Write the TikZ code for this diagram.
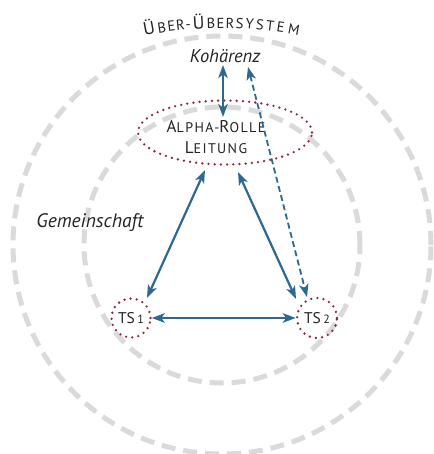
\documentclass[tikz,border=0pt]{standalone}
\usepackage{fontspec}
\setmainfont{PT Sans}
\usetikzlibrary{arrows.meta,shapes.geometric}
\definecolor{ringgray}{RGB}{218,218,218}
\definecolor{arrowblue}{RGB}{44,104,145}
\definecolor{dotred}{RGB}{140,40,55}
\definecolor{textgray}{RGB}{35,35,35}
\newcommand\scBig{\fontsize{17}{21}\selectfont}
\newcommand\scSmall{\fontsize{14}{21}\selectfont}
\begin{document}
\begin{tikzpicture}[x=1pt,y=1pt,
  ring/.style={draw=ringgray, line width=5pt, dash pattern=on 14pt off 8pt},
  dotline/.style={draw=dotred, line width=2.6pt, line cap=round, dash pattern=on 0pt off 6.2pt},
  link/.style={draw=arrowblue, line width=2.2pt,
    {Stealth[length=13pt,width=9.5pt,inset=3.5pt]}-{Stealth[length=13pt,width=9.5pt,inset=3.5pt]}},
  dlink/.style={link, line width=1.8pt, dash pattern=on 6pt off 3.5pt},
  lab/.style={text=textgray, font=\itshape\fontsize{18.5}{20}\selectfont, inner sep=0pt},
  tsnode/.style={circle, dotline, inner sep=0pt, text=textgray, font=\fontsize{15.5}{16}\selectfont},
  arcletter/.style={text=textgray, inner sep=0pt, anchor=base},
]
\useasboundingbox (0,0) rectangle (433,-454);
\coordinate (c) at (222,-245);
\draw[ring] (c) circle[radius=209pt];
\draw[ring] (c) circle[radius=138pt];

% curved title, letter by letter
\coordinate (tc) at (222,-418);
\foreach \ch/\xx/\sz [count=\i] in {Ü/150/18, B/162.5/14.5, E/172/14.5, R/181/14.5, -/188.5/14.5,
    Ü/199/18, B/211/14.5, E/220.5/14.5, R/230/14.5, S/239.5/14.5, Y/249.5/14.5,
    S/259.5/14.5, T/269.5/14.5, E/280/14.5, M/293/14.5} {
  \pgfmathsetmacro\ang{90-asin((\xx-222)/390)}
  \node[arcletter, rotate=\ang-90, font=\fontsize{\sz}{\sz}\selectfont] (title\i)
    at ([shift={(\ang:390pt)}]tc) {\ch};
}

% nodes
\node[ellipse, dotline, minimum width=174pt, minimum height=64pt, inner sep=0pt] (alpha) at (225,-132.5) {};
\node[align=center, text=textgray, inner sep=0pt,
  font=\fontsize{17}{21}\selectfont\addfontfeature{LetterSpace=10}] (alphatxt) at (216,-137.5)
  {\scBig A\scSmall LPHA-\scBig R\scSmall OLLE\\\scBig L\scSmall EITUNG};
\node[lab, anchor=base] (koh) at (225,-63) {Kohärenz};
\node[lab, anchor=base, font=\itshape\fontsize{19.5}{20}\selectfont] (gem) at (90,-227) {Gemeinschaft};
\node[tsnode, minimum size=39pt] (ts1) at (131,-318) {TS\,{\fontsize{12}{12}\selectfont 1}};
\node[tsnode, minimum size=40pt] (ts2) at (317,-318) {TS\,{\fontsize{12}{12}\selectfont 2}};

% connector end points
\coordinate (k1) at (223,-65);
\coordinate (a1) at (223,-117);
\coordinate (k2) at (248,-67);
\coordinate (t2d) at (307,-297);
\coordinate (a2) at (205,-170);
\coordinate (t1a) at (147,-298);
\coordinate (a3) at (238,-172);
\coordinate (t2a) at (296,-299);

\draw[link] (k1) -- (a1);
\draw[dlink] (k2) -- (t2d);
\draw[link] (a2) -- (t1a);
\draw[link] (a3) -- (t2a);
\draw[link] (ts1.east) -- (ts2.west);
\end{tikzpicture}
\end{document}
